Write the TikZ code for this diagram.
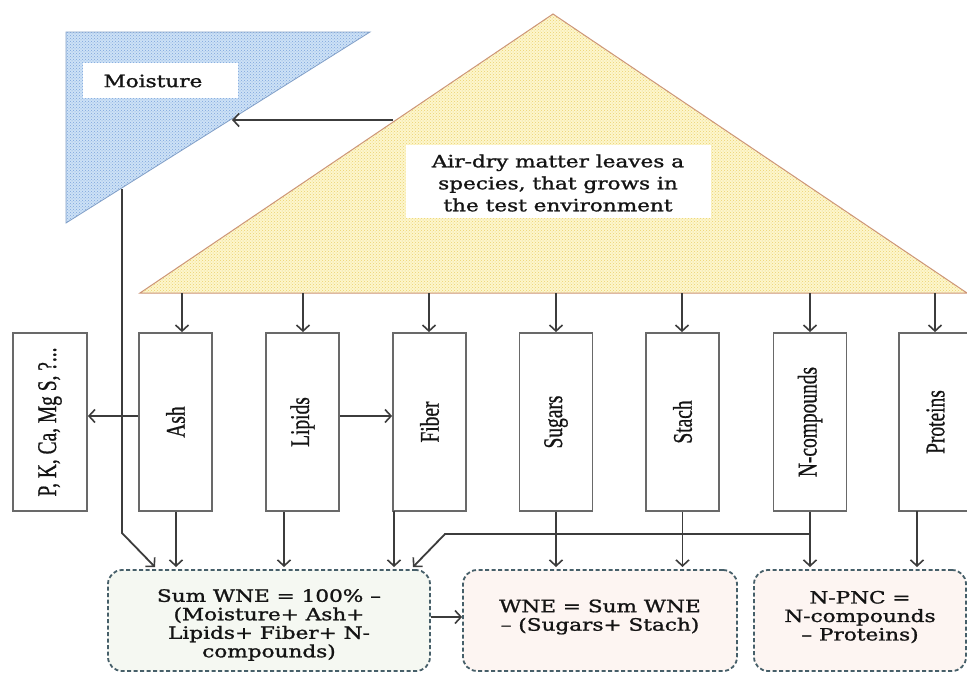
\documentclass[tikz,border=0pt]{standalone}
\usepackage{fontspec}
\setmainfont{DejaVu Serif}[FakeBold=1.2]
\newfontfamily\labfont{Liberation Serif}[FakeBold=0.8]
\usetikzlibrary{arrows.meta,patterns,calc}
\definecolor{bluefill}{RGB}{205,225,246}
\definecolor{bluepat}{RGB}{125,165,220}
\definecolor{blueedge}{RGB}{130,160,200}
\definecolor{yelfill}{RGB}{253,246,205}
\definecolor{yelpat}{RGB}{235,210,110}
\definecolor{yeledge}{RGB}{205,150,120}
\definecolor{boxedge}{RGB}{105,105,105}
\definecolor{arrcol}{RGB}{60,60,60}
\definecolor{dashcol}{RGB}{70,95,105}
\definecolor{greenfill}{RGB}{245,248,242}
\definecolor{pinkfill}{RGB}{253,245,242}
\definecolor{txt}{RGB}{20,20,20}
\newcommand{\vlab}[1]{\rotatebox{90}{\scalebox{0.72}[1]{\labfont\fontsize{27}{30}\selectfont #1}}}
\begin{document}
\begin{tikzpicture}[x=1pt,y=-1pt,
  tallbox/.style={draw=boxedge,line width=1.8pt,fill=white,minimum width=73pt,minimum height=178pt,inner sep=0pt,text=txt},
  labbox/.style={fill=white,inner sep=0pt,text=txt},
  resbox/.style={draw=dashcol,line width=1.8pt,dash pattern=on 4pt off 2.5pt,rounded corners=14pt,inner sep=0pt,text=txt,align=center},
  arr/.style={draw=arrcol,line width=1.8pt,-{Straight Barb[length=6pt,width=13pt,line width=1.6pt]}},
  wide/.style={xscale=1.27,transform shape}]
\useasboundingbox (0,0) rectangle (967,673);
\fill[white] (0,0) rectangle (967,673);
% blue triangle
\coordinate (b1) at (66,32);
\coordinate (b2) at (370,32);
\coordinate (b3) at (66,223);
\fill[bluefill] (b1) -- (b2) -- (b3) -- cycle;
\fill[pattern=crosshatch dots,pattern color=bluepat] (b1) -- (b2) -- (b3) -- cycle;
\draw[blueedge,line width=0.8pt] (b1) -- (b2) -- (b3) -- cycle;
\node[labbox,minimum width=155pt,minimum height=35pt] (moistbox) at (160,80) {};
\node[text=txt,font=\fontsize{17}{20}\selectfont,wide] (moist) at (153,81) {Moisture};
% yellow triangle
\coordinate (y1) at (553,14);
\coordinate (y2) at (140,293);
\coordinate (y3) at (967,293);
\fill[yelfill] (y1) -- (y2) -- (y3) -- cycle;
\fill[pattern=crosshatch dots,pattern color=yelpat] (y1) -- (y2) -- (y3) -- cycle;
\draw[yeledge,line width=1pt] (y1) -- (y2) -- (y3) -- cycle;
\node[labbox,minimum width=305pt,minimum height=73pt] (airbox) at (558,181) {};
\node[text=txt,font=\fontsize{17}{22}\selectfont,align=center,wide] (air) at (558,183)
  {Air-dry matter leaves a\\species, that grows in\\the test environment};
% tall boxes
\node[tallbox,minimum width=74pt] (pk) at (50,422) {\vlab{P, K, Ca, Mg S, ?...}};
\node[tallbox] (ash) at (175.5,422) {\vlab{Ash}};
\node[tallbox] (lip) at (302.5,422) {\vlab{Lipids}};
\node[tallbox] (fib) at (429.5,422) {\vlab{Fiber}};
\node[tallbox] (sug) at (556,422) {\vlab{Sugars}};
\node[tallbox] (sta) at (682.5,422) {\vlab{Stach}};
\node[tallbox] (ncp) at (810,422) {\vlab{N-compounds}};
\node[tallbox] (pro) at (935.5,422) {\vlab{Proteins}};
% result boxes
\node[resbox,fill=greenfill,minimum width=322pt,minimum height=101pt] (sum) at (269,620.5) {};
\node[resbox,fill=pinkfill,minimum width=274pt,minimum height=101pt] (wne) at (600,620.5) {};
\node[resbox,fill=pinkfill,minimum width=212pt,minimum height=101pt] (npc) at (860,620.5) {};
\node[text=txt,font=\fontsize{17}{18.5}\selectfont,align=center,wide] (sumt) at (269,625)
  {Sum WNE = 100\% –\\(Moisture+ Ash+\\Lipids+ Fiber+ N-\\compounds)};
\node[text=txt,font=\fontsize{17}{18.5}\selectfont,align=center,wide] (wnet) at (600,617)
  {WNE = Sum WNE\\– (Sugars+ Stach)};
\node[text=txt,font=\fontsize{17}{18.5}\selectfont,align=center,wide] (npct) at (860,617)
  {N-PNC =\\N-compounds\\– Proteins)};
% arrows from yellow base
\foreach \n/\xx in {ash/182,lip/303,fib/429,sug/556,sta/682,ncp/810,pro/935}{
  \coordinate (t\n) at (\xx,293);
  \draw[arr] (t\n) -- (t\n |- \n.north);
}
% moisture arrow
\coordinate (ma) at (393,120);
\coordinate (mb) at (232,120);
\draw[arr] (ma) -- (mb);
% moisture down line
\coordinate (md) at (122,189);
\coordinate (mk) at (122,533);
\coordinate (mt) at (155,567);
\draw[arr] (md) -- (mk) -- (mt);
% side arrows
\draw[arr] (ash.west |- 0,416) -- (pk.east |- 0,416);
\draw[arr] (lip.east |- 0,416) -- (fib.west |- 0,416);
% downs to sum
\coordinate (ashd) at (176,512);
\coordinate (lipd) at (284,512);
\coordinate (fibd) at (394,511);
\draw[arr] (ashd) -- (ashd |- 0,567);
\draw[arr] (lipd) -- (lipd |- 0,567);
\draw[arr] (fibd) -- (fibd |- 0,567);
% downs to wne / npc
\draw[arr] (sug.south) -- (sug.south |- 0,567);
\draw[arr] (sta.south) -- (sta.south |- 0,567);
\draw[arr] (ncp.south) -- (ncp.south |- 0,567);
\coordinate (prod) at (917,511);
\draw[arr] (prod) -- (prod |- 0,567);
% N-compounds branch to sum
\coordinate (nk) at (810,534);
\coordinate (nc) at (445,534);
\coordinate (ne) at (413,567);
\draw[arr] (nk) -- (nc) -- (ne);
% sum to wne
\draw[arr] (sum.east |- 0,617) -- (wne.west |- 0,617);
\end{tikzpicture}
\end{document}
